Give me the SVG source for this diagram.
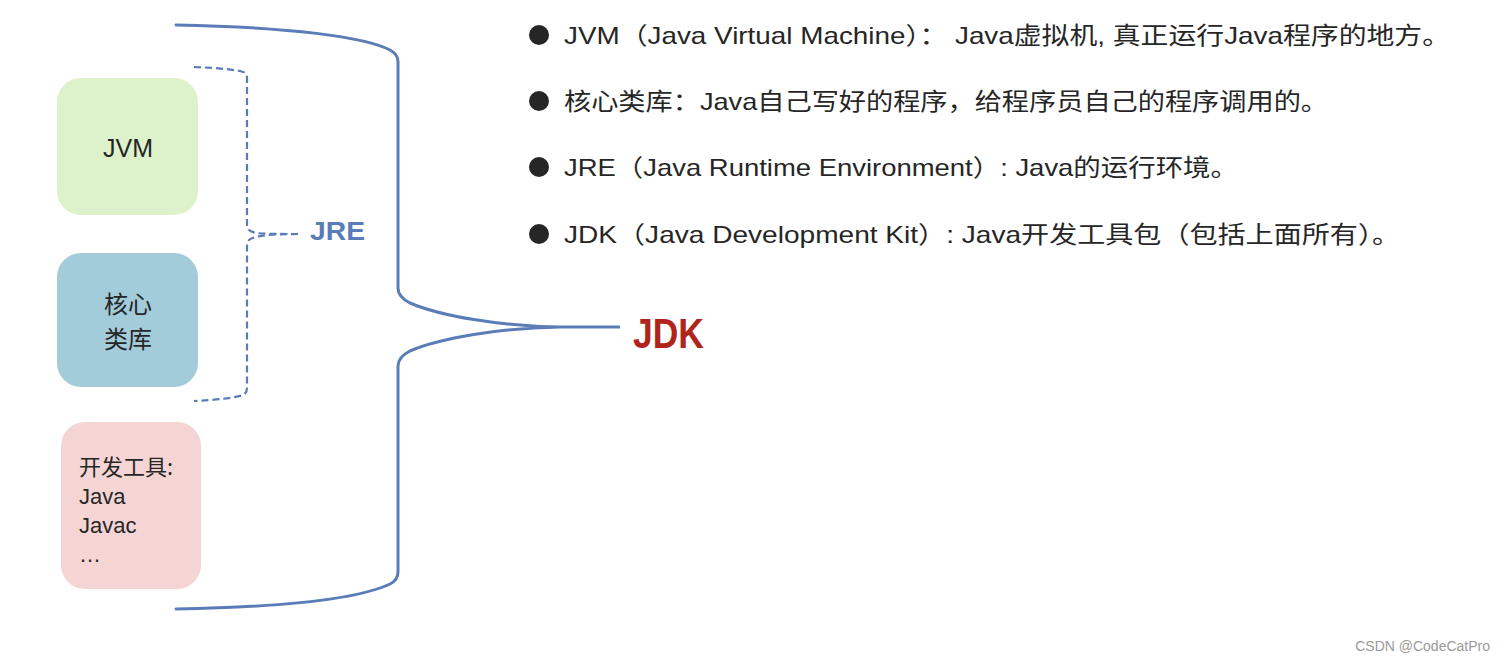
<svg xmlns="http://www.w3.org/2000/svg" width="1504" height="661" viewBox="0 0 1504 661">
<style>
.box-text{font-family:"Liberation Sans","Noto Sans CJK SC",sans-serif;fill:#262626;}
.cjk{font-family:"Noto Sans CJK SC","Liberation Sans",sans-serif;fill:#262626;}
.line{font-family:"Liberation Sans","Noto Sans CJK SC",sans-serif;font-size:24px;fill:#262626;}
.brace{fill:none;stroke:#5a7db8;stroke-width:3;stroke-linecap:round;}
.dash{fill:none;stroke:#5a7db8;stroke-width:2.2;stroke-dasharray:7,4;}
</style>
<rect width="1504" height="661" fill="#ffffff"/>
<g id="node-jvm">
<rect x="57" y="78" width="141" height="137" rx="24" fill="#ddf2ca"/>
<text x="128" y="157" text-anchor="middle" class="box-text" font-size="25">JVM</text>
</g>
<g id="node-core">
<rect x="57" y="253" width="141" height="134" rx="24" fill="#a3ccdb"/>
<text text-anchor="middle" class="cjk" font-size="24"><tspan x="128" y="313">核心</tspan><tspan x="128" y="348">类库</tspan></text>
</g>
<g id="node-tools">
<rect x="61" y="422" width="140" height="167" rx="24" fill="#f4d5d4"/>
<text class="box-text" font-size="22"><tspan x="79" y="475" font-family="Noto Sans CJK SC, Liberation Sans, sans-serif">开发工具:</tspan><tspan x="79" y="504">Java</tspan><tspan x="79" y="533">Javac</tspan><tspan x="79" y="562">…</tspan></text>
</g>
<g id="connectors">
<path class="brace" d="M176,25 C290,27 365,37 390,50 Q398,54 398,62 L398,288 Q398,297 410,303 C440,316 500,326 560,327 L620,327 L560,327 C500,328 440,338 410,351 Q398,357 398,366 L398,572 Q398,580 390,584 C360,598 290,607 176,609"/>
<path class="dash" d="M194,67 C220,68 238,70 243,72 Q247,73 247,78 L247,226 Q247,231 256,233 C265,234 275,234 298,234"/>
<path class="dash" d="M298,234 C275,234 265,235 256,237 Q247,239 247,244 L247,388 Q247,393 243,395 C235,398 215,400 194,401"/>
</g>
<g id="label-jre">
<text x="310" y="240" font-family="Liberation Sans, sans-serif" font-weight="bold" font-size="26" fill="#5a7db8" textLength="55" lengthAdjust="spacingAndGlyphs">JRE</text>
</g>
<g id="label-jdk">
<text x="633" y="348" font-family="Liberation Sans, sans-serif" font-weight="bold" font-size="42" fill="#b0241c" textLength="71" lengthAdjust="spacingAndGlyphs">JDK</text>
</g>
<g id="legend">
<circle cx="539" cy="35" r="10" fill="#262626"/>
<text x="564" y="44" class="line" textLength="886" lengthAdjust="spacingAndGlyphs">JVM（Java Virtual Machine）： Java虚拟机, 真正运行Java程序的地方。</text>
<circle cx="539" cy="101" r="10" fill="#262626"/>
<text x="564" y="110" class="line" textLength="764" lengthAdjust="spacingAndGlyphs">核心类库：Java自己写好的程序，给程序员自己的程序调用的。</text>
<circle cx="539" cy="167" r="10" fill="#262626"/>
<text x="564" y="176" class="line" textLength="674" lengthAdjust="spacingAndGlyphs">JRE（Java Runtime Environment）: Java的运行环境。</text>
<circle cx="539" cy="234" r="10" fill="#262626"/>
<text x="564" y="243" class="line" textLength="836" lengthAdjust="spacingAndGlyphs">JDK（Java Development Kit）: Java开发工具包（包括上面所有）。</text>
</g>
<text x="1490" y="651" text-anchor="end" font-family="Liberation Sans, sans-serif" font-size="14" fill="#9a9a9a">CSDN @CodeCatPro</text>
</svg>
